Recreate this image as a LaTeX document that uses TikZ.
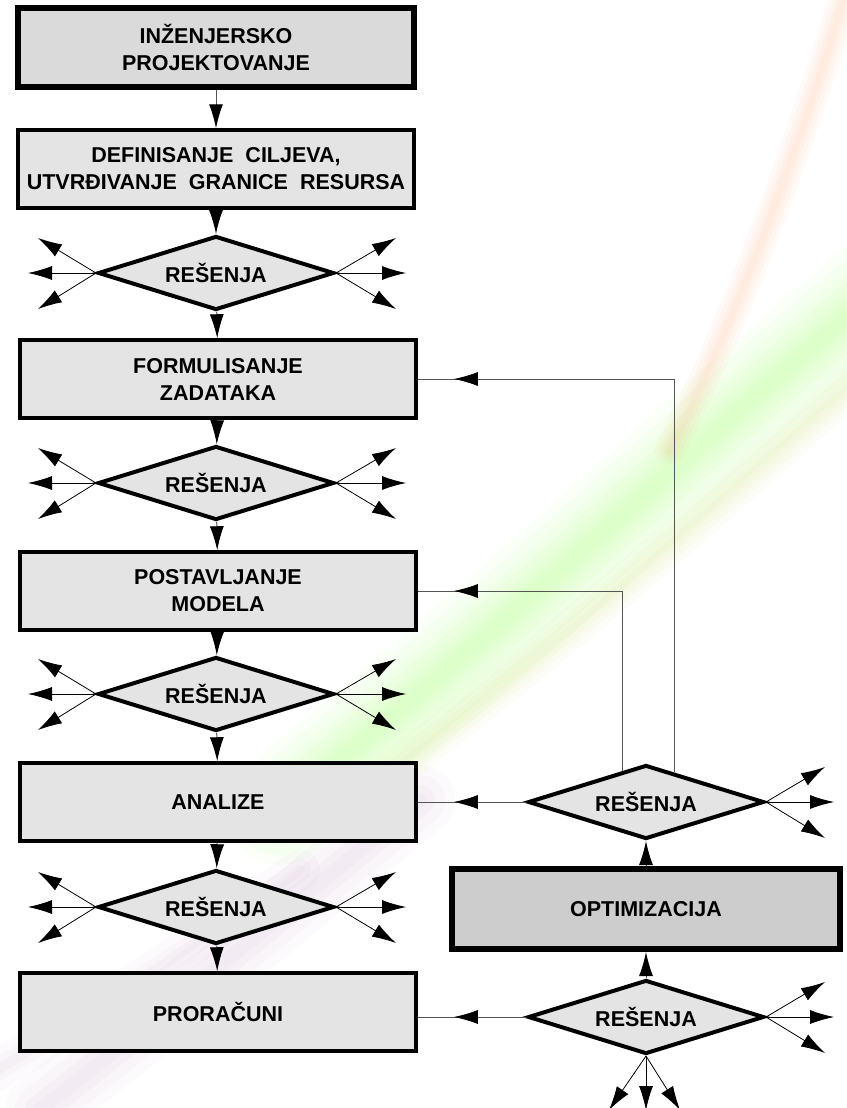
\documentclass[tikz,border=0pt]{standalone}
\usepackage{fontspec}
\setmainfont{Liberation Sans}
\usetikzlibrary{arrows.meta,shapes.geometric,decorations.markings,calc}
\definecolor{boxfill}{HTML}{E4E4E4}
\definecolor{topfill}{HTML}{DADADA}
\definecolor{optfill}{HTML}{CDCDCD}
\definecolor{linegray}{HTML}{555555}
\newcommand{\wsp}{\hspace{12pt}}
\tikzset{
  txt/.style={font=\fontsize{21.5}{27}\selectfont\bfseries, align=center, text=black},
  stepbox/.style={txt, rectangle, draw=black, fill=boxfill, line width=3.5pt,
    minimum width=396pt, minimum height=78pt, inner sep=0pt},
  bigbox/.style={stepbox, fill=topfill, line width=6pt},
  optbox/.style={stepbox, fill=optfill, line width=6pt, minimum width=388pt, minimum height=80pt},
  dec/.style={txt, diamond, aspect=3.2, draw=black, fill=boxfill, line width=4pt,
    minimum width=236pt, minimum height=74pt, inner sep=2pt},
  conn/.style={draw=linegray, line width=1pt, -{Latex[length=24pt,width=14pt,color=black]}},
  fan/.style={draw=black, line width=0.8pt, -{Latex[length=24pt,width=14pt,color=black]}},
  midarrow/.style={draw=linegray, line width=1pt,
    postaction={decorate, decoration={markings,
      mark=at position -36pt with {\arrow{Latex[length=24pt,width=14pt,color=black]}}}}},
}
\begin{document}
\begin{tikzpicture}[x=1pt,y=-1pt]
\useasboundingbox (0,0) rectangle (846,1108);
\fill[white] (0,0) rectangle (846,1108);

% decorative background swoosh (faint)
\foreach \w in {110,90,70,55,40,28,16} {
  \draw[line width=\w pt, green!60!yellow, opacity=0.03, line cap=round]
    (880,290) .. controls (720,420) and (560,580) .. (280,810);
}
\foreach \w in {40,28,18,8} {
  \draw[line width=\w pt, yellow!70!green, opacity=0.035, line cap=round]
    (880,360) .. controls (720,500) and (580,630) .. (380,780);
}
\foreach \w in {30,22,14,7} {
  \draw[line width=\w pt, orange!80!red, opacity=0.03, line cap=round]
    (850,-20) .. controls (800,140) and (750,290) .. (670,450);
}
\foreach \w in {70,50,30,14} {
  \draw[line width=\w pt, blue!40!purple, opacity=0.02, line cap=round]
    (420,800) .. controls (300,900) and (180,1000) .. (40,1110);
}
\foreach \w in {40,22,10} {
  \draw[line width=\w pt, blue!30!purple, opacity=0.02, line cap=round]
    (300,870) .. controls (200,940) and (100,1010) .. (-20,1080);
}

% left column
\node[bigbox]  (b1) at (216,47.5) {INŽENJERSKO\\PROJEKTOVANJE};
\node[stepbox] (b2) at (216,169) {DEFINISANJE\wsp CILJEVA,\\UTVRĐIVANJE\wsp GRANICE\wsp RESURSA};
\node[dec]     (d1) at (216,273) {REŠENJA};
\node[stepbox] (b3) at (218,379) {FORMULISANJE\\ZADATAKA};
\node[dec]     (d2) at (216,483) {REŠENJA};
\node[stepbox] (b4) at (218,591) {POSTAVLJANJE\\MODELA};
\node[dec]     (d3) at (216,694) {REŠENJA};
\node[stepbox] (b5) at (218,802) {ANALIZE};
\node[dec]     (d4) at (216,907) {REŠENJA};
\node[stepbox] (b6) at (218,1012) {PRORAČUNI};

% right column
\node[dec]     (r1) at (646,802) {REŠENJA};
\node[optbox]  (opt) at (646,909) {OPTIMIZACIJA};
\node[dec]     (r2) at (646,1017) {REŠENJA};

% feedback start points on the upper edges of r1
\coordinate (fbA) at ($(r1.west)!0.80!(r1.north)$);
\coordinate (fbB) at ($(r1.north)!0.24!(r1.east)$);

\draw[conn] (b1) -- (b2);
\draw[conn] (b2) -- (d1);
\draw[conn] (d1) -- (b3);
\draw[conn] (b3) -- (d2);
\draw[conn] (d2) -- (b4);
\draw[conn] (b4) -- (d3);
\draw[conn] (d3) -- (b5);
\draw[conn] (b5) -- (d4);
\draw[conn] (d4) -- (b6);
\draw[conn] (r2) -- (opt);
\draw[conn] (opt) -- (r1);

\draw[midarrow] (r1.west) -- (b5.east);
\draw[midarrow] (r2.west) -- (r2.west -| b6.east);
\draw[midarrow] (fbA) |- (b4.east);
\draw[midarrow] (fbB) |- (b3.east);

\foreach \d in {d1,d2,d3,d4} {
  \draw[fan] (\d.west) -- ++(-58,-35);
  \draw[fan] (\d.west) -- ++(-68,0);
  \draw[fan] (\d.west) -- ++(-58,36);
  \draw[fan] (\d.east) -- ++(60,-35);
  \draw[fan] (\d.east) -- ++(70,0);
  \draw[fan] (\d.east) -- ++(60,36);
}
\foreach \d in {r1,r2} {
  \draw[fan] (\d.east) -- ++(59,-35);
  \draw[fan] (\d.east) -- ++(68,0);
  \draw[fan] (\d.east) -- ++(59,36);
}
\draw[fan] (r2.south) -- ++(-37,54);
\draw[fan] (r2.south) -- ++(0,54);
\draw[fan] (r2.south) -- ++(34,54);
\end{tikzpicture}
\end{document}
